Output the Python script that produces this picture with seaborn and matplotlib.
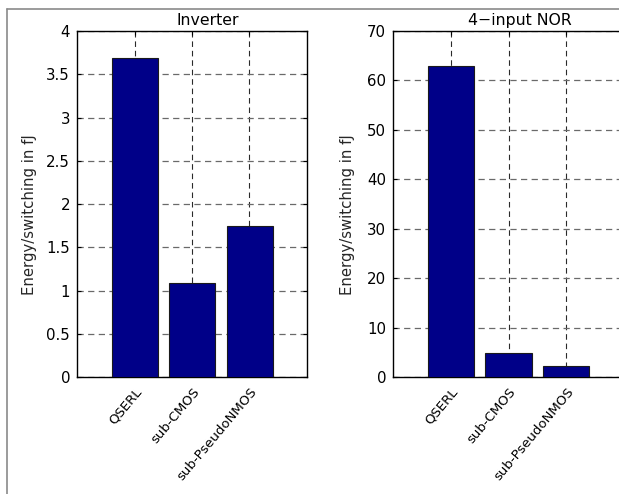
import matplotlib
matplotlib.use("Agg")
import matplotlib.pyplot as plt
from matplotlib.lines import Line2D
import seaborn as sns
import pandas as pd

# Energy per switching event (fJ) for each logic style
styles = ["QSERL", "sub-CMOS", "sub-PseudoNMOS"]
inverter_energy = [3.69, 1.09, 1.75]
nor4_energy = [63.0, 4.8, 2.2]

inverter_ticks = [0, 0.5, 1, 1.5, 2, 2.5, 3, 3.5, 4]
inverter_ticklabels = ["0", "0.5", "1", "1.5", "2", "2.5", "3", "3.5", "4"]
nor4_ticks = [0, 10, 20, 30, 40, 50, 60, 70]

sns.set_theme(style="white")
plt.rcParams["font.family"] = ["DejaVu Sans"]

W, H = 619, 494
fig = plt.figure(figsize=(W / 100, H / 100), dpi=100)
fig.patch.set_facecolor("white")

def px_axes(x0, y_top, x1, y_bot):
    return fig.add_axes([x0 / W, 1 - y_bot / H, (x1 - x0) / W, (y_bot - y_top) / H])

ax1 = px_axes(77, 31, 307, 377)
ax2 = px_axes(393, 31, 624, 377)

panels = [
    (ax1, inverter_energy, "Inverter", (0, 4), inverter_ticks, inverter_ticklabels, -0.172, 0.567),
    (ax2, nor4_energy, "4\u2212input NOR", (0, 70), nor4_ticks,
     [str(t) for t in nor4_ticks], -0.165, 0.548),
]

bar_color = "#000088"
for ax, values, title, ylim, yt, ytl, lab_x, title_x in panels:
    df = pd.DataFrame({"style": styles, "energy": values})
    sns.barplot(data=df, x="style", y="energy", order=styles, color=bar_color,
                saturation=1, edgecolor="#1a1a1a", linewidth=0.8, width=0.8, ax=ax, zorder=3)
    ax.set_xlim(-1, 3)
    ax.set_ylim(*ylim)
    ax.set_yticks(yt)
    ax.set_yticklabels(ytl, fontsize=10.8)
    ax.set_xticks(range(len(styles)))
    ax.set_xticklabels(styles, rotation=50, ha="right", va="top",
                       rotation_mode="anchor", fontsize=9.5)
    ax.set_xlabel("")
    ax.set_ylabel("Energy/switching in fJ", fontsize=10.7)
    ax.yaxis.set_label_coords(lab_x, 0.468)
    ax.set_axisbelow(True)
    ax.xaxis.grid(True, color="#2a2a2a", linestyle=(0, (5, 3.5)), linewidth=0.8)
    ax.yaxis.grid(True, color="#6a6a6a", linestyle=(0, (5, 3.5)), linewidth=0.9)
    for s in ax.spines.values():
        s.set_visible(True)
        s.set_color("black")
        s.set_linewidth(1.0)
    ax.tick_params(axis="both", direction="in", length=3, width=0.8, colors="black",
                   top=True, right=True, bottom=True, left=True)
    ax.tick_params(axis="y", pad=5)
    ax.tick_params(axis="x", pad=6)
    ax.text(title_x, 1.01, title, transform=ax.transAxes, ha="center", va="bottom",
            fontsize=11.3, color="black")

# Gray frame along the top and left of the figure
fig.add_artist(Line2D([7 / W, 1], [1 - 9 / H, 1 - 9 / H], transform=fig.transFigure,
                      color="#8a8a8a", linewidth=1.2))
fig.add_artist(Line2D([7 / W, 7 / W], [0, 1 - 9 / H], transform=fig.transFigure,
                      color="#8a8a8a", linewidth=1.2))

fig.savefig("out.png", dpi=100, facecolor="white")
